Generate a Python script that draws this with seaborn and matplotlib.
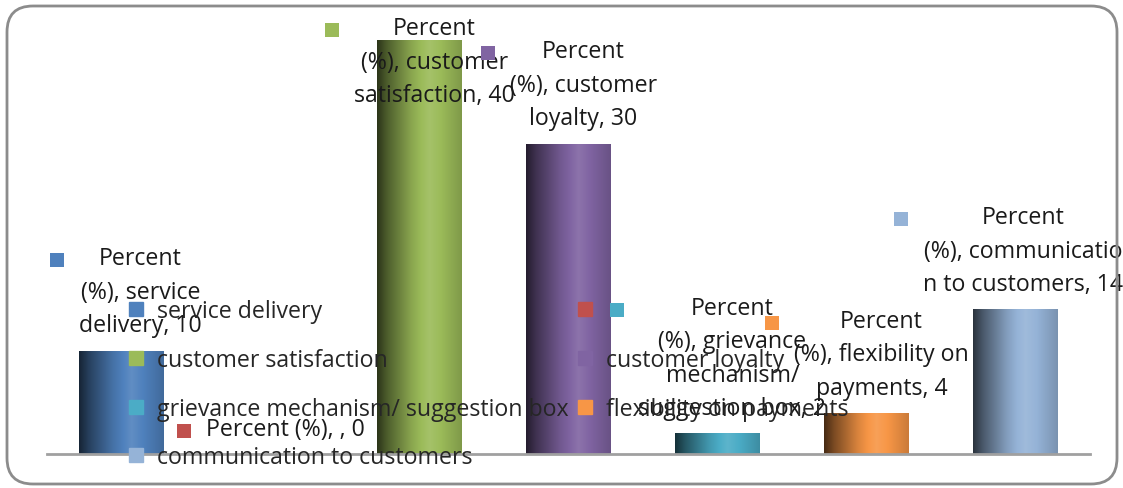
import numpy as np
import pandas as pd
import matplotlib
matplotlib.use("Agg")
import matplotlib.pyplot as plt
import seaborn as sns
from matplotlib.colors import to_rgb
from matplotlib.lines import Line2D
from matplotlib.patches import FancyBboxPatch, Rectangle

# Survey results: share of respondents per benefit
categories = ["service delivery", "", "customer satisfaction", "customer loyalty",
              "grievance mechanism/ suggestion box", "flexibility on payments",
              "communication to customers"]
percent = [10, 0, 40, 30, 2, 4, 14]
# wrapped data-label text (value is appended)
label_heads = ["Percent\n(%), service\ndelivery",
               "Percent (%), ",
               "Percent\n(%), customer\nsatisfaction",
               "Percent\n(%), customer\nloyalty",
               "Percent\n(%), grievance\nmechanism/\nsuggestion box",
               "Percent\n(%), flexibility on\npayments",
               "Percent\n(%), communicatio\nn to customers"]
colors = ["#4F81BD", "#C0504D", "#9BBB59", "#8064A2", "#4BACC6", "#F79646", "#95B3D7"]

W, H, DPI = 1123, 489, 100
FS = 16.7
sns.set_style("white")
plt.rcParams["font.family"] = ["Open Sans", "DejaVu Sans"]

fig = plt.figure(figsize=(W / DPI, H / DPI), dpi=DPI)
ax = fig.add_axes([47 / W, 1 - 455 / H, (1090 - 47) / W, (455 - 41) / H])

df = pd.DataFrame({"category": categories, "percent": percent})
sns.barplot(data=df, x="category", y="percent", hue="category", order=categories,
            hue_order=categories, palette=colors, saturation=1, width=0.565,
            legend=False, ax=ax)

# cylinder-like shading across each bar
tt = np.linspace(0, 1, 256)
shade = np.interp(tt, [0, 0.12, 0.4, 0.62, 0.82, 1.0], [0.28, 0.5, 0.88, 1.1, 0.95, 0.82])
for patch in list(ax.patches):
    x0, y0 = patch.get_x(), patch.get_y()
    w, h = patch.get_width(), patch.get_height()
    if h <= 0:
        continue
    idx = int(round(x0 + w / 2))
    base = np.array(to_rgb(colors[idx]))
    f = shade[:, None]
    rgb = np.where(f <= 1, base * f, base + (1 - base) * (f - 1))
    im = ax.imshow(rgb[None, :, :], extent=(x0, x0 + w, y0, y0 + h), aspect="auto",
                   interpolation="bilinear", zorder=patch.get_zorder() + 0.1)
    im.set_clip_path(patch)

ax.set_xlim(-0.5, 6.5)
ax.set_ylim(0, 40)
ax.set_xticks([])
ax.set_yticks([])
ax.set_xlabel("")
ax.set_ylabel("")
for side in ["left", "right", "top"]:
    ax.spines[side].set_visible(False)
ax.spines["bottom"].set_color("#a0a0a0")
ax.spines["bottom"].set_linewidth(2)

# data labels with their colour keys
texts = []
for i, (head, v) in enumerate(zip(label_heads, percent)):
    t = ax.annotate(f"{head}, {v}", xy=(i, v), xytext=(15, 13), textcoords="offset pixels",
                    ha="center", va="bottom", fontsize=FS, linespacing=1.53,
                    color="#1a1a1a", zorder=6, annotation_clip=False)
    texts.append(t)

fig.canvas.draw()
renderer = fig.canvas.get_renderer()
ax_left_px = 47
for t in texts:
    bb = t.get_window_extent(renderer)
    dx, dy = 0, 0
    if bb.x0 - 29 < ax_left_px + 3:
        dx = ax_left_px + 3 - (bb.x0 - 29)
    if bb.x1 > W:
        dx = W - bb.x1
    if bb.y1 > H - 17:
        dy = (H - 17) - bb.y1
    ox, oy = t.xyann
    t.xyann = (ox + dx, oy + dy)

fig.canvas.draw()
for t, c in zip(texts, colors):
    bb = t.get_window_extent(renderer)
    cx = bb.x0 - 22
    cy = bb.y1 - 14
    fig.add_artist(Rectangle((cx - 7, cy - 7), 14, 14, transform=None,
                             facecolor=c, edgecolor="none", zorder=7))

# legend, laid out row by row in two columns
order = [0, 2, 4, 6, 1, 3, 5]
handles = [Line2D([], [], marker="s", ls="", ms=10, mfc=colors[i], mec=colors[i]) for i in order]
labels = [categories[i] for i in order]
fig.legend(handles, labels, ncol=2, loc="upper left", bbox_to_anchor=(128 / W, 1 - 300 / H),
           frameon=False, fontsize=FS, labelspacing=1.07, handlelength=0.7,
           handletextpad=0.55, columnspacing=0.35, borderpad=0, borderaxespad=0)

# rounded chart frame
fig.add_artist(FancyBboxPatch((7, 4), 1110, 478, boxstyle="round,pad=0,rounding_size=26",
                              transform=None, fill=False, edgecolor="#8c8c8c", linewidth=2))

fig.savefig("out.png", dpi=DPI)
